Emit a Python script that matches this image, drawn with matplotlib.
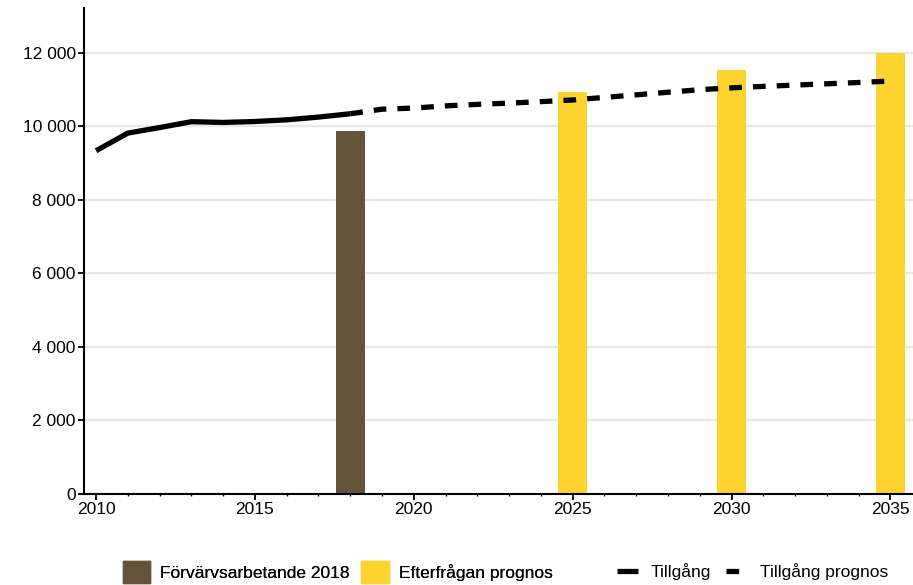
import matplotlib
matplotlib.use("Agg")
import matplotlib.pyplot as plt
from matplotlib.patches import Patch
from matplotlib.lines import Line2D
from matplotlib.ticker import FuncFormatter, MultipleLocator

plt.rcParams['font.family'] = ['Liberation Sans', 'DejaVu Sans']

# Data
years_hist = [2010, 2011, 2012, 2013, 2014, 2015, 2016, 2017, 2018]
supply_hist = [9330, 9810, 9960, 10120, 10100, 10125, 10170, 10245, 10335]
years_prog = [2018, 2019, 2020, 2021, 2022, 2023, 2024, 2025, 2026, 2027,
              2028, 2029, 2030, 2031, 2032, 2033, 2034, 2035]
supply_prog = [10335, 10460, 10490, 10550, 10590, 10625, 10665, 10710, 10780, 10850,
               10920, 10990, 11040, 11080, 11115, 11150, 11185, 11225]
emp_year = [2018]
emp_value = [9870]
demand_years = [2025, 2030, 2035]
demand_values = [10930, 11530, 11990]

labels = ["Förvärvsarbetande 2018", "Efterfrågan prognos", "Tillgång", "Tillgång prognos"]

brown = "#635439"
yellow = "#FDD32F"
FS = 12.5

fig = plt.figure(figsize=(9.13, 5.85), dpi=100)
ax = fig.add_axes([84/913, 91/585, 1 - 84/913, (494-8)/585])

ax.bar(emp_year, emp_value, width=0.9, color=brown, zorder=2)
ax.bar(demand_years, demand_values, width=0.9, color=yellow, zorder=2)
ax.plot(years_hist, supply_hist, color="black", lw=3.8, solid_capstyle="butt", zorder=3)
ax.plot(years_prog, supply_prog, color="black", lw=3.8, linestyle=(0, (2.4, 2.1)),
        dash_capstyle="butt", zorder=3)

ax.set_xlim(2009.62, 2035.71)
ax.set_ylim(0, 13210)
ax.set_yticks(range(0, 12001, 2000))
ax.yaxis.set_major_formatter(FuncFormatter(lambda v, p: f"{int(v):,}".replace(",", " ")))
ax.set_xticks([2010, 2015, 2020, 2025, 2030, 2035])
ax.xaxis.set_minor_locator(MultipleLocator(1))

ax.grid(axis="y", color="#E8E8E8", lw=1.6, zorder=0)
ax.set_axisbelow(True)
for s in ["top", "right"]:
    ax.spines[s].set_visible(False)
for s in ["left", "bottom"]:
    ax.spines[s].set_linewidth(1.5)
    ax.spines[s].set_zorder(4)
ax.tick_params(axis="both", which="major", length=4, width=1.3, labelsize=FS, pad=2)
ax.tick_params(axis="x", which="minor", length=1.5, width=1.0)

h1 = [Patch(color=brown), Patch(color=yellow)]
leg1 = fig.legend(h1, labels[:2], loc="center left", bbox_to_anchor=(123/913, 13/585),
                  ncol=2, frameon=False, fontsize=FS, handlelength=1.56, handleheight=1.56,
                  handletextpad=0.6, columnspacing=0.66, borderpad=0, borderaxespad=0)
h2 = [Line2D([], [], color="black", lw=3.8, solid_capstyle="butt"),
      Line2D([], [], color="black", lw=3.8, linestyle=(0, (2.4, 2.1)), dash_capstyle="butt")]
leg2 = fig.legend(h2, labels[2:], loc="center left", bbox_to_anchor=(617/913, 13/585),
                  ncol=2, frameon=False, fontsize=FS, handlelength=1.2,
                  handletextpad=0.75, columnspacing=0.85, borderpad=0, borderaxespad=0)
fig.add_artist(leg1)

fig.savefig("out.png", dpi=100)
